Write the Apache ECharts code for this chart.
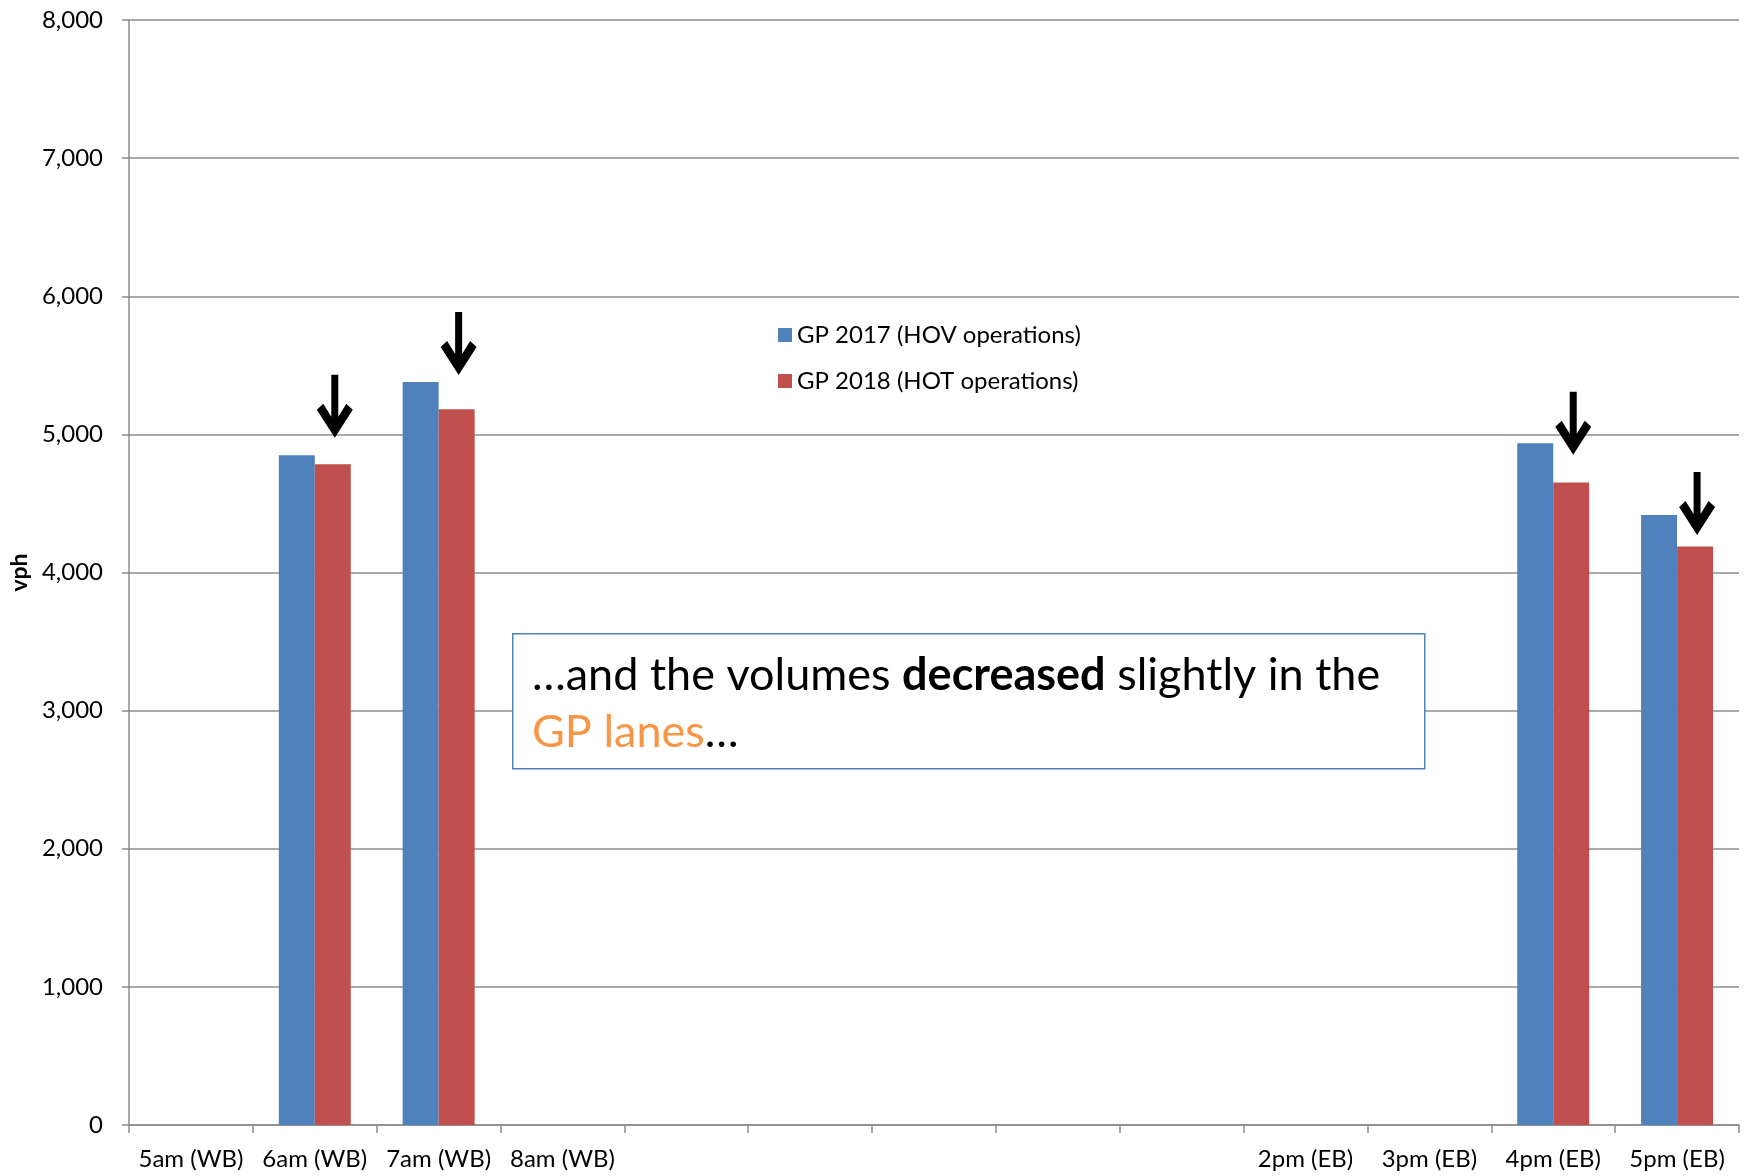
<!DOCTYPE html>
<html>
<head>
<meta charset="utf-8">
<script src="https://cdn.jsdelivr.net/npm/echarts@6/dist/echarts.min.js"></script>
<style>
  html, body { margin: 0; padding: 0; background: #fff; }
  #chart { width: 1750px; height: 1176px; }
</style>
</head>
<body>
<div id="chart"></div>
<script>
// categories (blank slots between the morning and afternoon peaks)
const categories = ['5am (WB)', '6am (WB)', '7am (WB)', '8am (WB)', '', '', '', '', '', '2pm (EB)', '3pm (EB)', '4pm (EB)', '5pm (EB)']
const gp2017 = [null, 4849, 5380, null, null, null, null, null, null, null, null, 4936, 4417]
const gp2018 = [null, 4784, 5182, null, null, null, null, null, null, null, null, 4651, 4188]
// where the down arrows point to
const arrowTips = [null, 4975, 5430, null, null, null, null, null, null, null, null, 4852, 4272]
const seriesNames = ['GP 2017 (HOV operations)', 'GP 2018 (HOT operations)']
const yMin = 0
const yMax = 8000
const yStep = 1000

const font = 'Lato, "Noto Sans", sans-serif'
const gridColor = '#8c8c8c'
const arrowPath = 'path://M14.5 0 L21.5 0 L21.5 42 L29.5 29 L36 35 L18 63 L0 35 L6.5 29 L14.5 42 Z'

const chart = echarts.init(document.getElementById('chart'))
const option = {
  backgroundColor: '#fff',
  animation: false,
  textStyle: { fontFamily: font },
  grid: { left: 129, right: 11, top: 20, bottom: 51, containLabel: false },
  legend: {
    data: seriesNames,
    orient: 'vertical',
    left: 778,
    top: 323,
    padding: 0,
    itemWidth: 14,
    itemHeight: 14,
    itemGap: 22,
    icon: 'rect',
    textStyle: { fontFamily: font, fontSize: 24, lineHeight: 24, color: '#000' }
  },
  xAxis: {
    type: 'category',
    data: categories,
    boundaryGap: true,
    axisLine: { show: true, lineStyle: { color: gridColor, width: 1.5 } },
    axisTick: { show: true, interval: 0, length: 8, lineStyle: { color: gridColor, width: 1.5 } },
    axisLabel: { interval: 0, margin: 22, fontSize: 24, color: '#000', fontFamily: font },
    splitLine: { show: false }
  },
  yAxis: {
    type: 'value',
    min: yMin,
    max: yMax,
    interval: yStep,
    name: 'vph',
    nameLocation: 'middle',
    nameRotate: 90,
    nameGap: 98,
    nameTextStyle: { fontFamily: font, fontSize: 23, fontWeight: 'bold', color: '#000' },
    axisLine: { show: true, lineStyle: { color: gridColor, width: 1.5 } },
    axisTick: { show: true, length: 7, lineStyle: { color: gridColor, width: 1.5 } },
    axisLabel: {
      margin: 26, fontSize: 24, color: '#000', fontFamily: font,
      formatter: v => v.toLocaleString('en-US')
    },
    splitLine: { show: true, lineStyle: { color: gridColor, width: 1.5 } }
  },
  series: [
    {
      name: seriesNames[0],
      type: 'bar',
      data: gp2017,
      barWidth: 36,
      barGap: '0%',
      itemStyle: { color: '#4F81BD' }
    },
    {
      name: seriesNames[1],
      type: 'bar',
      data: gp2018,
      barWidth: 36,
      barGap: '0%',
      itemStyle: { color: '#C0504D' }
    },
    {
      name: 'arrows',
      type: 'scatter',
      data: arrowTips,
      symbol: arrowPath,
      symbolSize: [36, 63],
      symbolOffset: [20, -31.5],
      itemStyle: { color: '#000', opacity: 1 },
      z: 5
    }
  ],
  graphic: [
    {
      type: 'rect',
      left: 512,
      top: 633,
      shape: { width: 912, height: 135 },
      style: { fill: '#fff', stroke: '#4F81BD', lineWidth: 1.5 },
      z: 10
    },
    {
      type: 'text',
      left: 532,
      top: 653,
      z: 11,
      style: {
        text: '{a|…and the volumes }{b|decreased}{a| slightly in the}\n{c|GP lanes}{a|…}',
        rich: {
          a: { fontFamily: font, fontSize: 45, lineHeight: 57, fill: '#000' },
          b: { fontFamily: font, fontSize: 45, lineHeight: 57, fill: '#000', fontWeight: 'bold' },
          c: { fontFamily: font, fontSize: 45, lineHeight: 57, fill: '#F79646' }
        }
      }
    }
  ]
}
chart.setOption(option)
</script>
</body>
</html>
